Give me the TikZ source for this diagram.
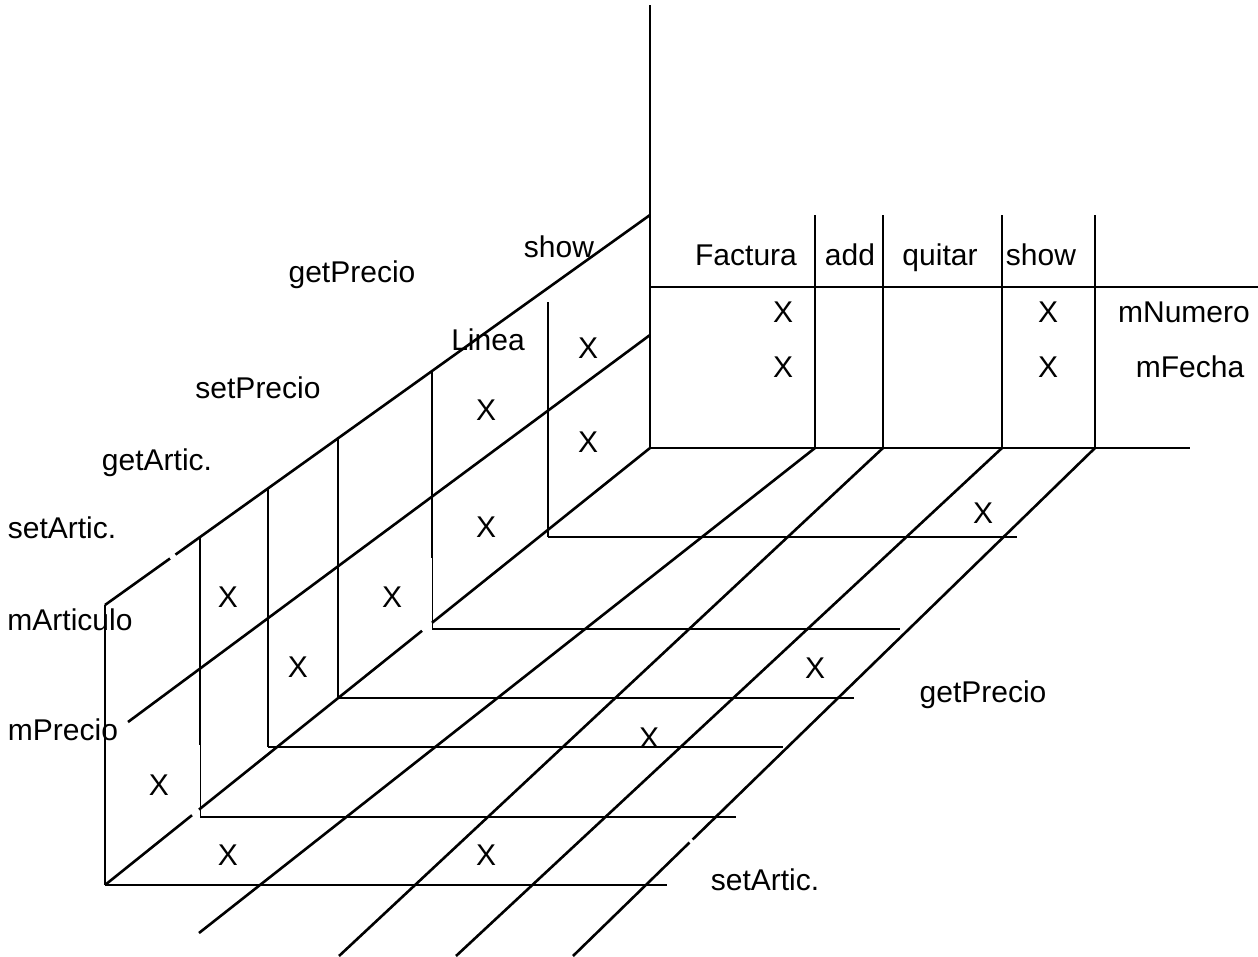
\documentclass[tikz,border=0pt]{standalone}
\usepackage{fontspec}
\setmainfont{Liberation Sans}
\begin{document}
\begin{tikzpicture}[x=1pt,y=-1pt,
  ln/.style={line width=2.6pt},
  thin/.style={line width=0.9pt},
  lbl/.style={font=\fontsize{30}{36}\selectfont, inner sep=0pt, text height=21.5pt, text depth=0pt}]
\useasboundingbox (0,0) rectangle (1258,956);
% ---------- Factura table (back wall) ----------
\coordinate (axtop) at (650,5);
\coordinate (axbot) at (650,448);
\draw[ln] (axtop) -- (axbot);
\foreach \x/\n in {815/c1,883/c2,1002/c3,1095/c4}{
  \coordinate (\n t) at (\x,215);
  \coordinate (\n b) at (\x,448);
  \draw[ln] (\n t) -- (\n b);
}
\coordinate (hA) at (650,287); \coordinate (hB) at (1258,287);
\draw[ln] (hA) -- (hB);
\coordinate (bR) at (1190,448);
\draw[ln] (axbot) -- (bR);
% ---------- Linea wall (left) ----------
\coordinate (d1a) at (105,605); \coordinate (d1g1) at (170,558.5);
\coordinate (d1g2) at (175.5,554.6); \coordinate (d1b) at (650,215);
\draw[ln] (d1a) -- (d1g1);
\draw[ln] (d1g2) -- (d1b);
\coordinate (d2a) at (128,722); \coordinate (d2b) at (650,335);
\draw[ln] (d2a) -- (d2b);
% corner line wall/floor
\coordinate (k0) at (105,885);
\coordinate (k1) at (192,815.2); \coordinate (k2) at (199,809.6);
\coordinate (k3) at (422,630.8); \coordinate (k4) at (432,622.8);
\draw[ln] (k0) -- (k1);
\draw[ln] (k2) -- (k3);
\draw[ln] (k4) -- (axbot);
% verticals of the left wall
\coordinate (v0t) at (105,605); \coordinate (v0b) at (105,885);
\draw[ln] (v0t) -- (v0b);
\coordinate (v1t) at (200,537); \coordinate (v1m) at (200,745); \coordinate (v1b) at (200,817);
\draw[ln] (v1t) -- (v1m); \draw[thin] (v1m) -- (v1b);
\coordinate (v2t) at (268,488.4); \coordinate (v2b) at (268,747);
\draw[ln] (v2t) -- (v2b);
\coordinate (v3t) at (338,438.3); \coordinate (v3b) at (338,698);
\draw[ln] (v3t) -- (v3b);
\coordinate (v4t) at (432,371); \coordinate (v4m) at (432,558); \coordinate (v4b) at (432,629);
\draw[ln] (v4t) -- (v4m); \draw[thin] (v4m) -- (v4b);
\coordinate (v5t) at (548,302); \coordinate (v5b) at (548,537);
\draw[ln] (v5t) -- (v5b);
% floor horizontals
\coordinate (h5e) at (1017,537); \draw[ln] (v5b) -- (h5e);
\coordinate (h4e) at (900,629); \draw[ln] (v4b) -- (h4e);
\coordinate (h3e) at (854,698); \draw[ln] (v3b) -- (h3e);
\coordinate (h2e) at (783,747); \draw[ln] (v2b) -- (h2e);
\coordinate (h1e) at (736,817); \draw[ln] (v1b) -- (h1e);
\coordinate (h0e) at (667,885); \draw[ln] (v0b) -- (h0e);
% floor diagonals
\coordinate (fA) at (199,933); \draw[ln] (c1b) -- (fA);
\coordinate (fB) at (339,956); \draw[ln] (c2b) -- (fB);
\coordinate (fC) at (456,956); \draw[ln] (c3b) -- (fC);
\coordinate (fD1) at (692.6,839.5); \coordinate (fD2) at (689.5,842.5);
\coordinate (fD) at (573,956);
\draw[ln] (c4b) -- (fD1); \draw[ln] (fD2) -- (fD);
% ---------- texts ----------
\node[lbl] (tFactura) at (746,255) {Factura};
\node[lbl] (tadd) at (850,255) {add};
\node[lbl] (tquitar) at (940,255) {quitar};
\node[lbl] (tshow) at (1041,255) {show};
\node[lbl] (tmNumero) at (1184,312) {mNumero};
\node[lbl] (tmFecha) at (1190,367) {mFecha};
\node[lbl] (tshowL) at (559,247) {show};
\node[lbl] (tgetPrecioL) at (352,272) {getPrecio};
\node[lbl] (tLinea) at (488,340) {Linea};
\node[lbl] (tsetPrecio) at (258,388) {setPrecio};
\node[lbl] (tgetArtic) at (157,460) {getArtic.};
\node[lbl] (tsetArticL) at (62,528) {setArtic.};
\node[lbl] (tmArticulo) at (70,620) {mArticulo};
\node[lbl] (tmPrecio) at (63,730) {mPrecio};
\node[lbl] (tgetPrecioF) at (983,692) {getPrecio};
\node[lbl] (tsetArticF) at (765,880) {setArtic.};
% X marks
\foreach \x/\y [count=\i] in {783/312,783/367,1048/312,1048/367,
  588/348,486/410,588/442,486/527,228/597,392/597,298/667,159/785,
  228/855,486/855,649/738,815/668,983/513}{
  \node[lbl] (x\i) at (\x,\y) {X};
}
\end{tikzpicture}
\end{document}
